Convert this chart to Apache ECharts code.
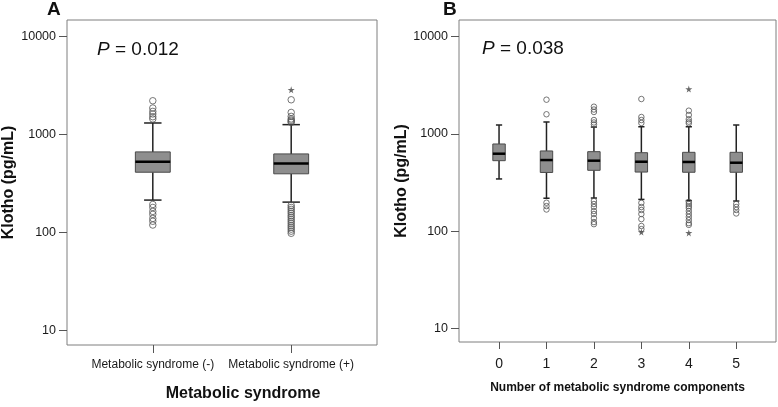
<!DOCTYPE html>
<html><head><meta charset="utf-8">
<script src="https://cdn.jsdelivr.net/npm/echarts@6/dist/echarts.min.js"></script>
<style>html,body{margin:0;padding:0;background:#fff}#c{width:778px;height:407px}</style>
</head><body><div id="c"></div>
<script>
// ---- data ----
const catsA = ['Metabolic syndrome (-)', 'Metabolic syndrome (+)'];
// [lower whisker, Q1, median, Q3, upper whisker]
const boxA = [
  [214, 412, 526, 665, 1312],
  [204, 397, 506, 634, 1262]
];
const outA = [
  [2213, 1866, 1723, 1622, 1520, 1443, 193, 180, 164, 153, 139, 130, 119],
  [2265, 1682, 1532, 1443, 1400, 1363, 1330, 189, 180, 172, 164, 157, 149, 143, 136, 130, 124, 118, 113, 108, 103, 98]
];
const extA = [[], [2866]];

const catsB = ['0', '1', '2', '3', '4', '5'];
const boxB = [
  [344, 530, 625, 787, 1233],
  [218, 401, 538, 667, 1324],
  [219, 422, 530, 656, 1175],
  [212, 405, 517, 640, 1183],
  [206, 403, 514, 646, 1183],
  [204, 403, 505, 646, 1233]
];
const outB = [
  [],
  [2244, 1589, 196, 181, 167],
  [1901, 1778, 1678, 1387, 1309, 1248, 204, 190, 177, 161, 150, 136, 124, 118],
  [2280, 1490, 1387, 1294, 195, 177, 165, 150, 133, 113, 105],
  [1730, 1563, 1413, 1334, 1283, 200, 190, 181, 173, 161, 150, 140, 130, 121, 116],
  [190, 177, 165, 152]
];
const extB = [[], [], [], [98], [2890, 96], []];

const yTicks = [10, 100, 1000, 10000];
const pA = '0.012', pB = '0.038';
const yName = 'Klotho (pg/mL)';
const xNameA = 'Metabolic syndrome';
const xNameB = 'Number of metabolic syndrome components';

// ---- helpers ----
const SANS = '"Liberation Sans", Arial, sans-serif';
const STAR = 'path://M50,0 L61,35 L98,35 L68,57 L79,91 L50,70 L21,91 L32,57 L2,35 L39,35 Z';

function boxRender(halfFrac, capFrac) {
  return function (params, api) {
    const x = api.value(0);
    const pLo = api.coord([x, api.value(1)]);
    const pQ1 = api.coord([x, api.value(2)]);
    const pMd = api.coord([x, api.value(3)]);
    const pQ3 = api.coord([x, api.value(4)]);
    const pHi = api.coord([x, api.value(5)]);
    const unit = api.coord([x + 1, api.value(3)])[0] - pMd[0];
    const hw = unit * halfFrac, cw = hw * capFrac, cx = pMd[0];
    const ls = { stroke: '#222', lineWidth: 1.5 };
    return {
      type: 'group', children: [
        { type: 'line', shape: { x1: cx, y1: pHi[1], x2: cx, y2: pQ3[1] }, style: ls },
        { type: 'line', shape: { x1: cx, y1: pQ1[1], x2: cx, y2: pLo[1] }, style: ls },
        { type: 'line', shape: { x1: cx - cw, y1: pHi[1], x2: cx + cw, y2: pHi[1] }, style: ls },
        { type: 'line', shape: { x1: cx - cw, y1: pLo[1], x2: cx + cw, y2: pLo[1] }, style: ls },
        { type: 'rect', shape: { x: cx - hw, y: pQ3[1], width: 2 * hw, height: pQ1[1] - pQ3[1] }, style: { fill: '#8e8e8e', stroke: '#4a4a4a', lineWidth: 1 } },
        { type: 'line', shape: { x1: cx - hw, y1: pMd[1], x2: cx + hw, y2: pMd[1] }, style: { stroke: '#000', lineWidth: 2.5 } }
      ]
    };
  };
}
function pts(arr) { const r = []; arr.forEach((a, i) => a.forEach(v => r.push([i, v]))); return r; }

function yAxis(gi, min, max, gap) {
  return {
    type: 'log', logBase: 10, gridIndex: gi, min: min, max: max,
    axisLine: { show: false, onZero: false },
    axisTick: { show: true, length: 8, customValues: yTicks, lineStyle: { color: '#555', width: 1 } },
    axisLabel: { customValues: yTicks, margin: 11, fontSize: 12.5, color: '#1a1a1a', fontFamily: SANS, formatter: v => String(Math.round(v)) },
    splitLine: { show: false },
    name: yName, nameLocation: 'middle', nameGap: gap,
    nameTextStyle: { fontFamily: SANS, fontWeight: 'bold', fontSize: 16, color: '#111' }
  };
}

const option = {
  animation: false,
  grid: [
    { left: 65, top: 20, width: 312, height: 326, show: true, borderColor: '#7f7f7f', borderWidth: 1, containLabel: false },
    { left: 459, top: 20, width: 317, height: 322, show: true, borderColor: '#7f7f7f', borderWidth: 1, containLabel: false }
  ],
  title: [
    { text: 'A', left: 47, top: 0, padding: 0, textStyle: { fontFamily: SANS, fontWeight: 'bold', fontSize: 19, color: '#111', lineHeight: 19 } },
    { text: 'B', left: 443, top: 0, padding: 0, textStyle: { fontFamily: SANS, fontWeight: 'bold', fontSize: 19, color: '#111', lineHeight: 19 } },
    { text: '{i|P} = ' + pA, left: 97, top: 40, padding: 0, textStyle: { fontFamily: SANS, fontWeight: 'normal', fontSize: 19, color: '#111', lineHeight: 19, rich: { i: { fontFamily: SANS, fontStyle: 'italic', fontSize: 19, color: '#111', lineHeight: 19 } } } },
    { text: '{i|P} = ' + pB, left: 482, top: 39, padding: 0, textStyle: { fontFamily: SANS, fontWeight: 'normal', fontSize: 19, color: '#111', lineHeight: 19, rich: { i: { fontFamily: SANS, fontStyle: 'italic', fontSize: 19, color: '#111', lineHeight: 19 } } } }
  ],
  xAxis: [
    {
      type: 'value', gridIndex: 0, min: -0.62, max: 1.62,
      axisLine: { show: false, onZero: false },
      axisTick: { show: true, length: 8, customValues: [0, 1], lineStyle: { color: '#555' } },
      axisLabel: { customValues: [0, 1], hideOverlap: false, margin: 14, fontSize: 12, color: '#1a1a1a', fontFamily: SANS, formatter: v => catsA[Math.round(v)] },
      splitLine: { show: false },
      name: xNameA, nameLocation: 'middle', nameGap: 41,
      nameTextStyle: { fontFamily: SANS, fontWeight: 'bold', fontSize: 16, color: '#111', padding: [0, 0, 0, 42] }
    },
    {
      type: 'value', gridIndex: 1, min: -0.844, max: 5.838,
      axisLine: { show: false, onZero: false },
      axisTick: { show: true, length: 7, customValues: [0, 1, 2, 3, 4, 5], lineStyle: { color: '#555' } },
      axisLabel: { customValues: [0, 1, 2, 3, 4, 5], margin: 15, fontSize: 14, color: '#1a1a1a', fontFamily: SANS, formatter: v => catsB[Math.round(v)] },
      splitLine: { show: false },
      name: xNameB, nameLocation: 'middle', nameGap: 40,
      nameTextStyle: { fontFamily: SANS, fontWeight: 'bold', fontSize: 12, color: '#111' }
    }
  ],
  yAxis: [yAxis(0, 7.08, 14790, 50), yAxis(1, 7.26, 14790, 47)],
  series: [
    { type: 'custom', xAxisIndex: 0, yAxisIndex: 0, renderItem: boxRender(0.126, 0.5), encode: { x: 0, y: [1, 2, 3, 4, 5] }, data: boxA.map((b, i) => [i].concat(b)), z: 2 },
    { type: 'custom', xAxisIndex: 1, yAxisIndex: 1, renderItem: boxRender(0.131, 0.5), encode: { x: 0, y: [1, 2, 3, 4, 5] }, data: boxB.map((b, i) => [i].concat(b)), z: 2 },
    { type: 'scatter', xAxisIndex: 0, yAxisIndex: 0, symbol: 'circle', symbolSize: 6.5, itemStyle: { color: 'rgba(255,255,255,0)', borderColor: '#555', borderWidth: 1 }, data: pts(outA), z: 3 },
    { type: 'scatter', xAxisIndex: 1, yAxisIndex: 1, symbol: 'circle', symbolSize: 5.5, itemStyle: { color: 'rgba(255,255,255,0)', borderColor: '#555', borderWidth: 1 }, data: pts(outB), z: 3 },
    { type: 'scatter', xAxisIndex: 0, yAxisIndex: 0, symbol: STAR, symbolSize: 7, itemStyle: { color: '#444' }, data: pts(extA), z: 3 },
    { type: 'scatter', xAxisIndex: 1, yAxisIndex: 1, symbol: STAR, symbolSize: 7, itemStyle: { color: '#444' }, data: pts(extB), z: 3 }
  ]
};
echarts.init(document.getElementById('c'), null, { renderer: 'canvas' }).setOption(option);
</script>
</body></html>
